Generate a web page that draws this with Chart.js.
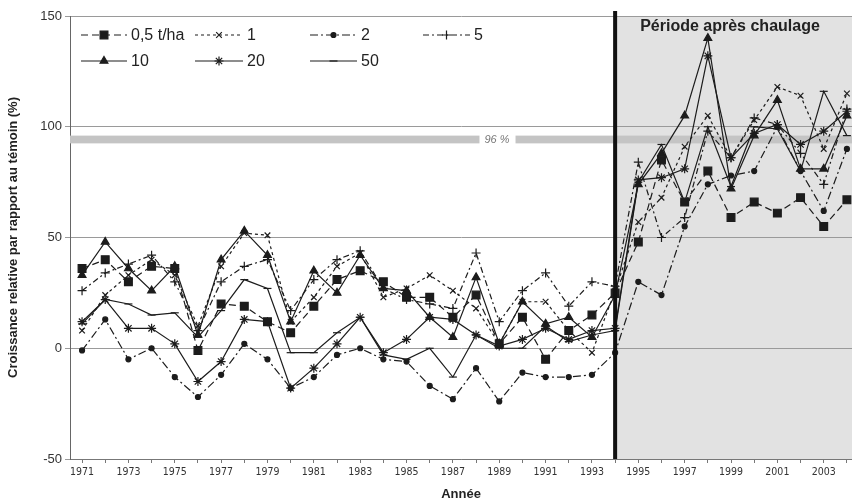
<!DOCTYPE html>
<html>
<head>
<meta charset="utf-8">
<script src="https://cdn.jsdelivr.net/npm/chart.js"></script>
<style>
  html, body { margin: 0; padding: 0; background: #fff; }
  #wrap { width: 852px; height: 502px; }
</style>
</head>
<body>
<div id="wrap"><canvas id="chart" width="852" height="502"></canvas></div>
<script>
// years on the x axis
const years = [1971, 1972, 1973, 1974, 1975, 1976, 1977, 1978, 1979, 1980, 1981, 1982,
  1983, 1984, 1985, 1986, 1987, 1988, 1989, 1990, 1991, 1992, 1993, 1994, 1995, 1996,
  1997, 1998, 1999, 2000, 2001, 2002, 2003, 2004];

// relative growth (%) per lime dose
const dose05 = [36, 40, 30, 37, 36, -1, 20, 19, 12, 7, 19, 31, 35, 30, 23, 23, 14, 24, 2, 14, -5, 8, 15,
  25, 48, 85, 66, 80, 59, 66, 61, 68, 55, 67];
const dose1 = [8, 24, 33, 40, 33, 10, 37, 52, 51, 12, 23, 37, 43, 23, 27, 33, 26, 18, 2, 21, 21, 8, -2,
  26, 57, 68, 91, 105, 86, 103, 118, 114, 90, 115];
const dose2 = [-1, 13, -5, 0, -13, -22, -12, 2, -5, -18, -13, -3, 0, -5, -6, -17, -23, -9, -24, -11, -13, -13, -12,
  -2, 30, 24, 55, 74, 78, 80, 100, 80, 62, 90];
const dose5 = [26, 34, 38, 42, 30, 8, 30, 37, 40, 17, 31, 40, 44, 27, 22, 20, 18, 43, 12, 26, 34, 19, 30,
  28, 84, 50, 59, 98, 86, 104, 101, 88, 74, 108];
const dose10 = [33, 48, 36, 26, 37, 6, 40, 53, 42, 12, 35, 25, 42, 27, 26, 14, 5, 32, 2, 21, 11, 14, 5,
  24, 74, 88, 105, 140, 72, 96, 112, 81, 81, 105];
const dose20 = [12, 22, 9, 9, 2, -15, -6, 13, 12, -18, -9, 2, 14, -2, 4, 14, 13, 6, 1, 4, 9, 4, 8,
  9, 76, 77, 81, 132, 86, 97, 101, 92, 98, 107];
const dose50 = [11, 22, 20, 15, 16, 5, 17, 31, 27, -2, -2, 7, 14, -3, -5, 0, -13, 6, 0, 0, 10, 3, 6,
  8, 75, 92, 66, 100, 73, 100, 99, 80, 116, 96];

const seriesLabels = ["0,5 t/ha", "1", "2", "5", "10", "20", "50"];
const yTicks = [-50, 0, 50, 100, 150];
const limingYear = 1994;
const thresholdLabel = "96 %";
const thresholdTop = 96;
const thresholdBottom = 92.5;

const ink = "#1c1c1c";
const font = "'Liberation Sans', Arial, sans-serif";

function toPoints(values) {
    return values.map((v, i) => ({ x: years[i], y: v }));
}

function makeSet(label, values, dash, style, radius) {
    return {
        label: label,
        data: toPoints(values),
        borderColor: ink,
        borderWidth: 1.2,
        borderDash: dash,
        pointStyle: style,
        pointRadius: radius,
        pointBackgroundColor: ink,
        pointBorderColor: ink,
        pointBorderWidth: 1.2,
        tension: 0,
        fill: false
    };
}

const datasets = [
    makeSet(seriesLabels[0], dose05, [7, 4], "rect", 5.5),
    makeSet(seriesLabels[1], dose1, [3, 3], "crossRot", 4),
    makeSet(seriesLabels[2], dose2, [8, 3, 2, 3], "circle", 2.5),
    makeSet(seriesLabels[3], dose5, [6, 3, 2, 3], "cross", 4.5),
    makeSet(seriesLabels[4], dose10, [], "triangle", 4.5),
    makeSet(seriesLabels[5], dose20, [], "star", 4.5),
    makeSet(seriesLabels[6], dose50, [], "line", 4)
];

// legend slots: [lineStart, lineEnd, y]
const legendSlots = [
    [81, 127, 35], [195, 243, 35], [310, 357, 35], [423, 470, 35],
    [81, 127, 61], [195, 243, 61], [310, 357, 61]
];

function drawMarker(ctx, ds, x, y) {
    const opts = { pointStyle: ds.pointStyle, radius: ds.pointRadius, rotation: 0, borderWidth: ds.pointBorderWidth };
    if (Chart.helpers && Chart.helpers.drawPoint) {
        Chart.helpers.drawPoint(ctx, opts, x, y);
    } else {
        ctx.beginPath();
        ctx.arc(x, y, 2.5, 0, Math.PI * 2);
        ctx.fill();
    }
}

const decorPlugin = {
    id: "decor",
    beforeDraw(chart) {
        const ctx = chart.ctx;
        const area = chart.chartArea;
        const x = chart.scales.x;
        ctx.save();
        ctx.fillStyle = "#fff";
        ctx.fillRect(0, 0, chart.width, chart.height);
        // shaded period after liming
        const xs = x.getPixelForValue(limingYear);
        ctx.fillStyle = "#e2e2e2";
        ctx.fillRect(xs, area.top, area.right - xs, area.bottom - area.top);
        ctx.restore();
    },
    beforeDatasetsDraw(chart) {
        const ctx = chart.ctx;
        const area = chart.chartArea;
        const y = chart.scales.y;
        const yTop = y.getPixelForValue(thresholdTop);
        const yBot = y.getPixelForValue(thresholdBottom);
        const labelX = area.left + 427;
        ctx.save();
        ctx.font = "italic 11px " + font;
        const w = ctx.measureText(thresholdLabel).width;
        ctx.fillStyle = "#c4c4c4";
        ctx.fillRect(area.left, yTop, labelX - w / 2 - 5 - area.left, yBot - yTop);
        ctx.fillRect(labelX + w / 2 + 6, yTop, area.right - (labelX + w / 2 + 6), yBot - yTop);
        ctx.fillStyle = "#777";
        ctx.textAlign = "center";
        ctx.textBaseline = "middle";
        ctx.fillText(thresholdLabel, labelX, (yTop + yBot) / 2);
        ctx.restore();
    },
    afterDatasetsDraw(chart) {
        const ctx = chart.ctx;
        const area = chart.chartArea;
        const xs = chart.scales.x.getPixelForValue(limingYear);
        ctx.save();
        ctx.strokeStyle = "#111";
        ctx.lineWidth = 4;
        ctx.beginPath();
        ctx.moveTo(xs, area.top - 5);
        ctx.lineTo(xs, area.bottom);
        ctx.stroke();

        ctx.fillStyle = "#222";
        ctx.font = "bold 16px " + font;
        ctx.textAlign = "center";
        ctx.textBaseline = "middle";
        ctx.fillText("Période après chaulage", 730, 27);

        // legend
        datasets.forEach((ds, i) => {
            const [x0, x1, ly] = legendSlots[i];
            ctx.strokeStyle = ds.borderColor;
            ctx.lineWidth = ds.borderWidth;
            ctx.setLineDash(ds.borderDash);
            ctx.beginPath();
            ctx.moveTo(x0, ly);
            ctx.lineTo(x1, ly);
            ctx.stroke();
            ctx.setLineDash([]);
            ctx.fillStyle = ds.pointBackgroundColor;
            ctx.strokeStyle = ds.pointBorderColor;
            ctx.lineWidth = ds.pointBorderWidth;
            drawMarker(ctx, ds, (x0 + x1) / 2, ly);
            ctx.fillStyle = "#222";
            ctx.font = "16px " + font;
            ctx.textAlign = "left";
            ctx.fillText(ds.label, x1 + 4, ly + 1);
        });
        ctx.restore();
    }
};

new Chart(document.getElementById("chart"), {
    type: "line",
    data: { datasets: datasets },
    plugins: [decorPlugin],
    options: {
        responsive: false,
        devicePixelRatio: 1,
        animation: false,
        layout: { autoPadding: false, padding: { top: 16, left: 0, right: 0, bottom: 0 } },
        plugins: { legend: { display: false }, tooltip: { enabled: false } },
        scales: {
            x: {
                type: "linear",
                min: 1970.48,
                max: 2004.22,
                afterFit: (s) => { s.height = 43; s.paddingLeft = 0; s.paddingRight = 0; },
                border: { color: "#777", width: 1 },
                grid: { drawOnChartArea: false, drawTicks: true, tickLength: 4, color: "#777" },
                ticks: {
                    stepSize: 1,
                    includeBounds: false,
                    autoSkip: false,
                    maxRotation: 0,
                    minRotation: 0,
                    padding: 3,
                    color: "#333",
                    font: { family: "'Liberation Sans Narrow', 'DejaVu Sans Condensed', Arial", size: 10.5 },
                    callback: (v) => (Math.round(v) % 2 === 1 ? String(Math.round(v)) : "")
                },
                title: {
                    display: true,
                    text: "Année",
                    color: "#222",
                    padding: { top: 0, bottom: 0 },
                    font: { family: font, size: 13, weight: "bold" }
                }
            },
            y: {
                min: -50,
                max: 150,
                afterFit: (s) => { s.width = 70; },
                afterBuildTicks: (s) => { s.ticks = yTicks.map(v => ({ value: v })); },
                border: { color: "#666", width: 1 },
                grid: { color: "#9a9a9a", lineWidth: 1, tickLength: 5 },
                ticks: {
                    color: "#333",
                    padding: 3,
                    font: { family: font, size: 13 }
                },
                title: {
                    display: true,
                    text: "Croissance relative par rapport au témoin (%)",
                    color: "#222",
                    padding: { top: 6, bottom: 0 },
                    font: { family: font, size: 13, weight: "bold" }
                }
            }
        }
    }
});
</script>
</body>
</html>
